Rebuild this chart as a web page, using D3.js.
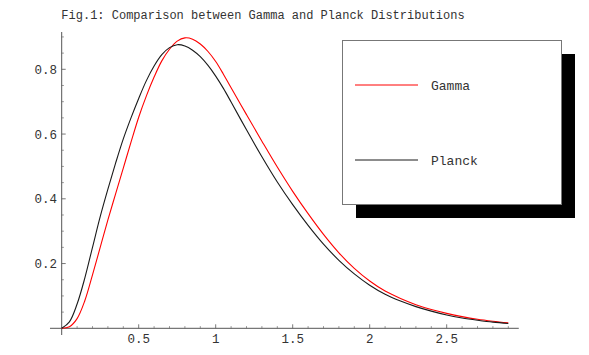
<!DOCTYPE html>
<html>
<head>
<meta charset="utf-8">
<script src="https://cdn.jsdelivr.net/npm/d3@7"></script>
<style>
  html, body { margin: 0; padding: 0; background: #fff; }
  #chart { width: 589px; height: 355px; }
  text { font-family: 'Liberation Mono', 'Courier New', monospace; fill: #333; }
</style>
</head>
<body>
<div id="chart"></div>
<script>
// values
const xValues = [0, 0.05, 0.1, 0.15, 0.2, 0.25, 0.3, 0.35, 0.4, 0.45, 0.5, 0.55, 0.6, 0.65, 0.7, 0.75,
  0.8, 0.85, 0.9, 0.95, 1.0, 1.05, 1.1, 1.2, 1.3, 1.4, 1.5, 1.6, 1.7, 1.8, 1.9, 2.0, 2.1, 2.2, 2.3,
  2.4, 2.5, 2.6, 2.7, 2.8, 2.9];
const gammaValues = [0, 0.005, 0.03, 0.085, 0.165, 0.25, 0.335, 0.415, 0.495, 0.575, 0.652, 0.718, 0.776,
  0.826, 0.862, 0.887, 0.897, 0.893, 0.878, 0.855, 0.824, 0.785, 0.743, 0.66, 0.578, 0.498, 0.423, 0.354,
  0.29, 0.233, 0.185, 0.146, 0.115, 0.092, 0.073, 0.058, 0.046, 0.036, 0.028, 0.022, 0.017];
const planckValues = [0, 0.02, 0.075, 0.155, 0.25, 0.345, 0.43, 0.51, 0.585, 0.65, 0.71, 0.765, 0.81,
  0.845, 0.867, 0.876, 0.872, 0.859, 0.839, 0.812, 0.779, 0.741, 0.699, 0.613, 0.53, 0.452, 0.382, 0.318,
  0.26, 0.21, 0.168, 0.133, 0.105, 0.084, 0.067, 0.053, 0.041, 0.032, 0.025, 0.019, 0.015];

const xTicks = [0.5, 1, 1.5, 2, 2.5];
const yTicks = [0.2, 0.4, 0.6, 0.8];
const xTickLabels = ['0.5', '1', '1.5', '2', '2.5'];
const yTickLabels = ['0.2', '0.4', '0.6', '0.8'];
const seriesNames = ['Gamma', 'Planck'];
const seriesColors = ['#ff0000', '#1a1a1a'];
const title = 'Fig.1: Comparison between Gamma and Planck Distributions';

const width = 589, height = 355;
const svg = d3.select('#chart').append('svg')
  .attr('width', width).attr('height', height);

const x = d3.scaleLinear().domain([0, 1]).range([61.7, 215.7]);
const y = d3.scaleLinear().domain([0, 0.8]).range([328.3, 69.3]);

const axisColor = '#555';

// title
svg.append('text').attr('x', 263).attr('y', 19).attr('text-anchor', 'middle')
  .style('font-size', '12px').text(title);

// x axis
const xAxisG = svg.append('g');
xAxisG.append('line').attr('x1', x(-0.076)).attr('x2', x(2.968))
  .attr('y1', y(0)).attr('y2', y(0)).attr('stroke', axisColor).attr('stroke-width', 1);
const xMinor = d3.range(1, 30).map(i => i / 10).filter(v => !xTicks.some(t => Math.abs(t - v) < 1e-6));
xAxisG.selectAll('.xminor').data(xMinor).enter().append('line')
  .attr('x1', d => x(d)).attr('x2', d => x(d)).attr('y1', y(0)).attr('y2', y(0) - 2.2)
  .attr('stroke', axisColor).attr('stroke-width', 0.6);
xAxisG.selectAll('.xmajor').data(xTicks).enter().append('line')
  .attr('x1', d => x(d)).attr('x2', d => x(d)).attr('y1', y(0)).attr('y2', y(0) - 4)
  .attr('stroke', axisColor).attr('stroke-width', 0.8);
xAxisG.selectAll('.xlabel').data(xTicks).enter().append('text')
  .attr('x', d => x(d)).attr('y', 343).attr('text-anchor', 'middle')
  .style('font-size', '12.5px').text((d, i) => xTickLabels[i]);

// y axis
const yAxisG = svg.append('g');
yAxisG.append('line').attr('x1', x(0)).attr('x2', x(0))
  .attr('y1', 32).attr('y2', 335).attr('stroke', axisColor).attr('stroke-width', 1);
const yMinor = d3.range(1, 19).map(i => i / 20).filter(v => !yTicks.some(t => Math.abs(t - v) < 1e-6));
yAxisG.selectAll('.yminor').data(yMinor).enter().append('line')
  .attr('x1', x(0)).attr('x2', x(0) + 2.2).attr('y1', d => y(d)).attr('y2', d => y(d))
  .attr('stroke', axisColor).attr('stroke-width', 0.6);
yAxisG.selectAll('.ymajor').data(yTicks).enter().append('line')
  .attr('x1', x(0)).attr('x2', x(0) + 4).attr('y1', d => y(d)).attr('y2', d => y(d))
  .attr('stroke', axisColor).attr('stroke-width', 0.8);
yAxisG.selectAll('.ylabel').data(yTicks).enter().append('text')
  .attr('x', 57).attr('y', d => y(d) + 4.5).attr('text-anchor', 'end')
  .style('font-size', '12.5px').text((d, i) => yTickLabels[i]);

// curves
const line = d3.line().x(d => x(d[0])).y(d => y(d[1])).curve(d3.curveCatmullRom.alpha(0.5));
[gammaValues, planckValues].forEach((vals, i) => {
  svg.append('path').datum(xValues.map((v, j) => [v, vals[j]]))
    .attr('fill', 'none').attr('stroke', seriesColors[i]).attr('stroke-width', 1.1)
    .attr('d', line);
});

// legend with drop shadow
const legend = svg.append('g');
legend.append('rect').attr('x', 356).attr('y', 54).attr('width', 219).attr('height', 164).attr('fill', '#000');
legend.append('rect').attr('x', 342.5).attr('y', 40.5).attr('width', 219).attr('height', 164)
  .attr('fill', '#fff').attr('stroke', '#777').attr('stroke-width', 1);
const legendY = [85, 160];
seriesNames.forEach((name, i) => {
  legend.append('line').attr('x1', 355).attr('x2', 418).attr('y1', legendY[i]).attr('y2', legendY[i])
    .attr('stroke', seriesColors[i]).attr('stroke-width', 1);
  legend.append('text').attr('x', 431).attr('y', legendY[i] + 4.5)
    .style('font-size', '13px').text(name);
});
</script>
</body>
</html>
